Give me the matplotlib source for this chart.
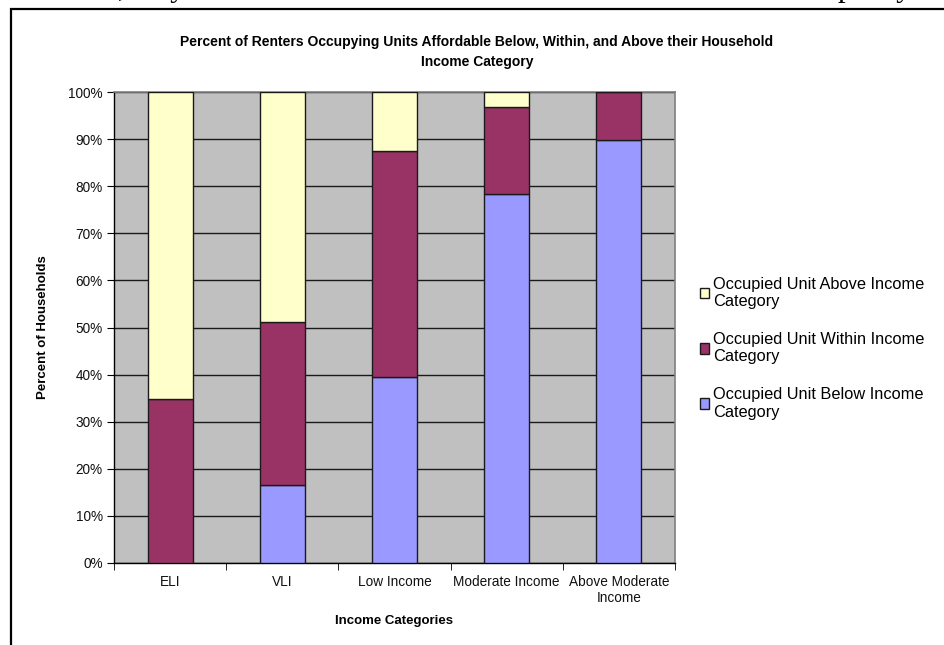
import matplotlib
matplotlib.use("Agg")
import matplotlib.pyplot as plt
from matplotlib.patches import Rectangle, Patch
from matplotlib.ticker import FixedLocator, PercentFormatter

plt.rcParams['font.family'] = ['Liberation Sans', 'DejaVu Sans']

categories = ["ELI", "VLI", "Low Income", "Moderate Income", "Above Moderate\nIncome"]
below = [0.0, 16.6, 39.5, 78.3, 89.8]
within = [34.8, 34.6, 48.0, 18.6, 10.2]
above = [65.2, 48.8, 12.5, 3.1, 0.0]

series_labels = ["Occupied Unit Below Income\nCategory",
                 "Occupied Unit Within Income\nCategory",
                 "Occupied Unit Above Income\nCategory"]
colors = ["#9999FF", "#993366", "#FFFFCC"]

W, H = 945, 645
fig = plt.figure(figsize=(W / 100, H / 100), dpi=100)

# outer chart frame
fig.patches.append(Rectangle((11 / W, -0.05), 1.2, 1.05 - 9 / H,
                             transform=fig.transFigure, fill=False,
                             edgecolor="black", linewidth=1.6, zorder=0))

# fragments of the surrounding document text above the chart
fig.text(118 / W, 1 + 4 / H, ", they", family="Liberation Serif", fontsize=22,
         va="baseline", ha="left")
fig.text(838 / W, 1 + 4 / H, "pacity", family="Liberation Serif", fontsize=22,
         va="baseline", ha="left")

ax = fig.add_axes([114 / W, 1 - 563 / H, 561 / W, 471 / H])
ax.set_facecolor("#C0C0C0")

x = list(range(len(categories)))
bottoms = [0.0] * len(categories)
for vals, col in zip([below, within, above], colors):
    ax.bar(x, vals, width=0.4, bottom=bottoms, color=col,
           edgecolor="#1a1a1a", linewidth=1.0, zorder=3)
    bottoms = [b + v for b, v in zip(bottoms, vals)]

ax.set_xlim(-0.5, len(categories) - 0.5)
ax.set_ylim(0, 100)
ax.yaxis.set_major_locator(FixedLocator(range(0, 101, 10)))
ax.yaxis.set_major_formatter(PercentFormatter(decimals=0))
ax.grid(axis="y", color="#1a1a1a", linewidth=1.0, zorder=1)
ax.set_axisbelow(True)

ax.set_xticks(x)
ax.set_xticklabels(categories, fontsize=9.8, color="#111111", linespacing=1.15)
ax.tick_params(axis="x", which="major", length=0, pad=9)
ax.set_xticks([i - 0.5 for i in range(len(categories) + 1)], minor=True)
ax.tick_params(axis="x", which="minor", length=5, direction="out", color="black")
ax.tick_params(axis="y", length=5, direction="out", labelsize=9.8,
               labelcolor="#111111", pad=3)

for s in ["top", "right"]:
    ax.spines[s].set_color("#808080")
    ax.spines[s].set_linewidth(1.2)
for s in ["left", "bottom"]:
    ax.spines[s].set_color("black")
    ax.spines[s].set_linewidth(1.0)

ax.set_xlabel("Income Categories", fontsize=9.5, fontweight="bold", labelpad=7)
ax.set_ylabel("Percent of Households", fontsize=9.5, fontweight="bold", labelpad=14)

fig.text(477 / W, 1 - 42 / H,
         "Percent of Renters Occupying Units Affordable Below, Within, and Above their Household",
         ha="center", va="center", fontsize=10, fontweight="bold")
fig.text(477 / W, 1 - 62 / H, "Income Category",
         ha="center", va="center", fontsize=10, fontweight="bold")

handles = [Patch(facecolor=c, edgecolor="#1a1a1a", linewidth=1.0) for c in colors]
leg = fig.legend(handles[::-1], series_labels[::-1], loc="upper left",
                 bbox_to_anchor=(693 / W, 1 - 270 / H), frameon=False,
                 fontsize=11.8, handlelength=0.6, handleheight=0.6,
                 handletextpad=0.25, labelspacing=1.4, borderaxespad=0)
for t in leg.get_texts():
    t.set_linespacing(1.2)

fig.savefig("out.png", dpi=100)
